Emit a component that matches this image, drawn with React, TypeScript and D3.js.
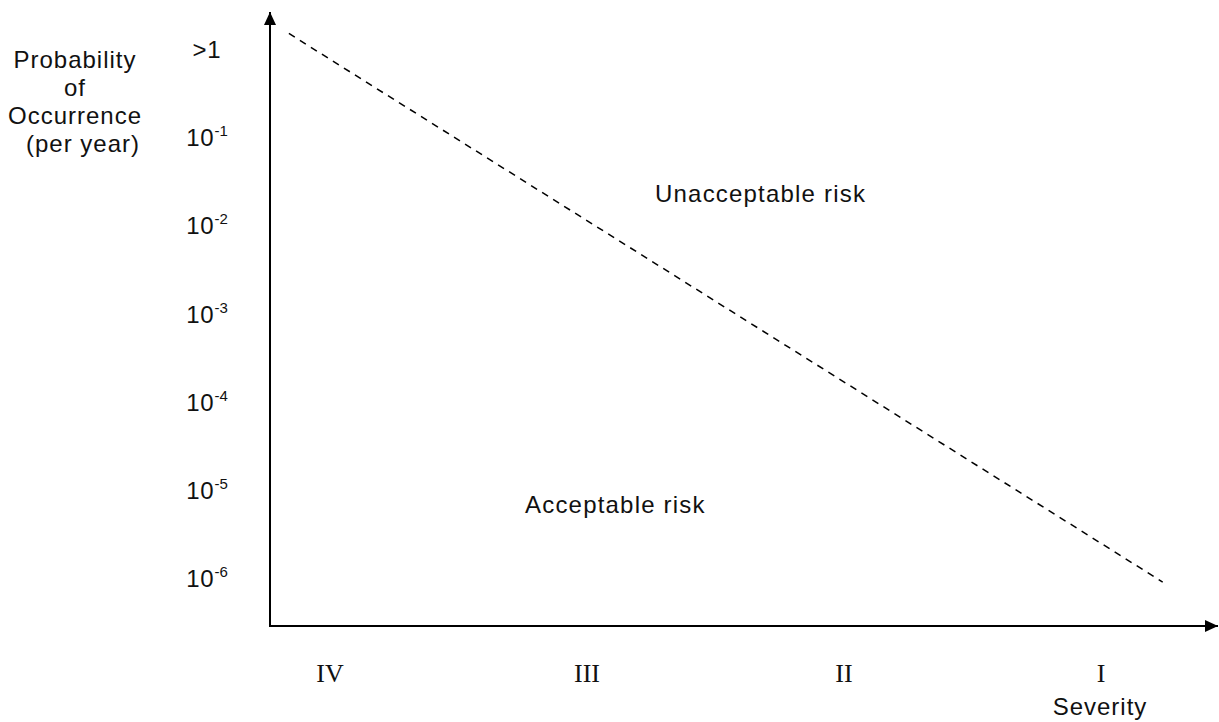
import * as d3 from 'd3';

// severity categories along the x axis (left to right)
const severityLabels = ['IV', 'III', 'II', 'I'];

// probability ticks (per year) and their labels
const probTicks = [1, 1e-1, 1e-2, 1e-3, 1e-4, 1e-5, 1e-6];
const probTickBase = ['>1', '10', '10', '10', '10', '10', '10'];
const probTickExp = ['', '-1', '-2', '-3', '-4', '-5', '-6'];

// dashed boundary between acceptable / unacceptable risk
// severity given as position index (0 = IV ... 3 = I)
const riskLine = [
  { severity: -0.16, prob: 1.5 },
  { severity: 3.24, prob: 9e-7 },
];

const yTitle = ['Probability', 'of', 'Occurrence', '(per year)'];

const W = 1219;
const H = 722;
const axisX = 270;
const axisY = 626;

const SANS = '"Liberation Sans", Arial, sans-serif';
const SERIF = '"Liberation Serif", "Times New Roman", serif';

export default function App() {
  const sevIndex = d3.scaleLinear().domain([0, 3]).range([330, 1101]);
  const x = d3.scalePoint<string>().domain(severityLabels).range([330, 1101]);
  const y = d3.scaleLog().domain([1e-6, 1]).range([578, 49]);

  const line = d3
    .line<{ severity: number; prob: number }>()
    .x(d => sevIndex(d.severity))
    .y(d => y(d.prob));

  return (
    <svg
      width={W}
      height={H}
      style={{ position: 'absolute', left: 0, top: 0, background: '#fff' }}
    >
      <defs>
        <marker
          id="arrow"
          markerUnits="userSpaceOnUse"
          markerWidth={14}
          markerHeight={12}
          refX={13}
          refY={6}
          orient="auto"
        >
          <path d="M0,0 L13,6 L0,12 Z" fill="#000" />
        </marker>
      </defs>

      {/* axes */}
      <line x1={axisX} y1={axisY} x2={axisX} y2={12} stroke="#000" strokeWidth={2} markerEnd="url(#arrow)" />
      <line x1={axisX - 1} y1={axisY} x2={1218} y2={axisY} stroke="#000" strokeWidth={2} markerEnd="url(#arrow)" />

      {/* y title */}
      <g fontFamily={SANS} fontSize={24} letterSpacing={1} fill="#111" textAnchor="middle">
        {yTitle.map((t, i) => (
          <text key={t} x={i === 3 ? 83 : 75} y={68 + i * 28}>
            {t}
          </text>
        ))}
      </g>

      {/* y tick labels */}
      <g fontFamily={SANS} fill="#111" textAnchor="middle">
        {probTicks.map((v, i) => (
          <text key={i} x={207} y={y(v) + 9} fontSize={24} letterSpacing={0.8}>
            {probTickBase[i]}
            {probTickExp[i] && (
              <tspan fontSize={15} dy={-10} letterSpacing={0}>
                {probTickExp[i]}
              </tspan>
            )}
          </text>
        ))}
      </g>

      {/* x tick labels */}
      <g fontFamily={SERIF} fontSize={26} fill="#111" textAnchor="middle">
        {severityLabels.map(s => (
          <text key={s} x={x(s)} y={682}>
            {s}
          </text>
        ))}
      </g>
      <text x={1100} y={715} fontFamily={SANS} fontSize={24} letterSpacing={1} textAnchor="middle" fill="#111">
        Severity
      </text>

      {/* risk boundary */}
      <path
        d={line(riskLine) || ''}
        fill="none"
        stroke="#000"
        strokeWidth={1.5}
        strokeDasharray="7 6"
      />

      {/* region labels */}
      <g fontFamily={SANS} fontSize={24} letterSpacing={1.2} fill="#111">
        <text x={655} y={202}>Unacceptable risk</text>
        <text x={525} y={513}>Acceptable risk</text>
      </g>
    </svg>
  );
}
